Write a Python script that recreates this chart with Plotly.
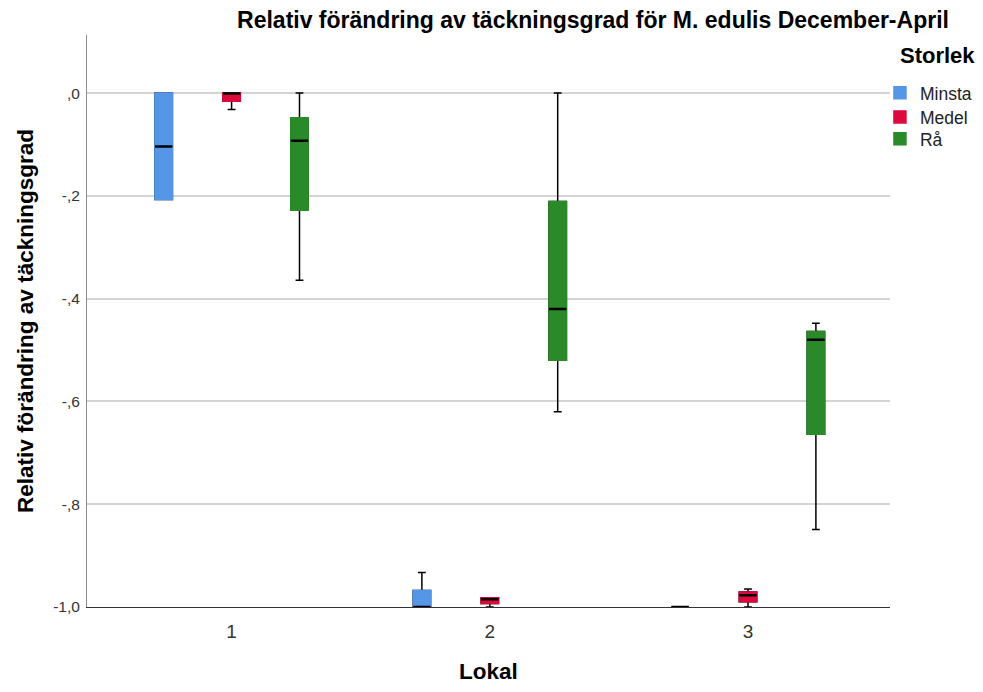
import plotly.graph_objects as go

categories = ["1", "2", "3"]
series = ["Minsta", "Medel", "Rå"]
colors = ["#5596E6", "#DC0A3C", "#2A8A2A"]

# box statistics per series (one value per Lokal)
q1 = {
    "Minsta": [-0.207, -1.000, -1.000],
    "Medel":  [-0.016, -0.993, -0.990],
    "Rå":     [-0.228, -0.520, -0.664],
}
median = {
    "Minsta": [-0.104, -1.000, -1.000],
    "Medel":  [-0.001, -0.985, -0.977],
    "Rå":     [-0.093, -0.420, -0.480],
}
q3 = {
    "Minsta": [0.000, -0.968, -1.000],
    "Medel":  [0.000, -0.982, -0.971],
    "Rå":     [-0.048, -0.211, -0.464],
}
lowerfence = {
    "Minsta": [-0.207, -1.000, -1.000],
    "Medel":  [-0.032, -1.000, -1.000],
    "Rå":     [-0.364, -0.620, -0.849],
}
upperfence = {
    "Minsta": [0.000, -0.933, -1.000],
    "Medel":  [0.000, -0.982, -0.965],
    "Rå":     [0.000, 0.000, -0.448],
}

ytickvals = [0, -0.2, -0.4, -0.6, -0.8, -1.0]
yticktext = [",0", "-,2", "-,4", "-,6", "-,8", "-1,0"]

legend_ids = ["legend", "legend2", "legend3"]
legend_y = [0.9301, 0.8881, 0.8497]

fig = go.Figure()
for i, s in enumerate(series):
    c = colors[i]
    # whiskers (black)
    fig.add_trace(go.Box(
        x=categories, q1=q1[s], median=median[s], q3=q3[s],
        lowerfence=lowerfence[s], upperfence=upperfence[s],
        offsetgroup=s, fillcolor=c, line=dict(color="#000000", width=1.5),
        whiskerwidth=0.45, boxpoints=False, showlegend=False, name=s,
    ))
    # colored body
    fig.add_trace(go.Box(
        x=categories, q1=q1[s], median=q1[s], q3=q3[s],
        lowerfence=q1[s], upperfence=q3[s],
        offsetgroup=s, fillcolor=c, line=dict(color=c, width=1.5),
        whiskerwidth=0, boxpoints=False, showlegend=True, name=s,
        legend=legend_ids[i],
    ))
    # median line (black)
    fig.add_trace(go.Box(
        x=categories, q1=median[s], median=median[s], q3=median[s],
        lowerfence=median[s], upperfence=median[s],
        offsetgroup=s, fillcolor=c, line=dict(color="#000000", width=2.5),
        whiskerwidth=0, boxpoints=False, showlegend=False, name=s,
    ))

legend_common = dict(
    x=0.9875, xanchor="left", yanchor="top",
    font=dict(size=17.5, color="#222"),
    itemclick=False, itemwidth=30, bgcolor="rgba(0,0,0,0)",
)

fig.update_layout(
    width=975, height=676,
    paper_bgcolor="white", plot_bgcolor="white",
    margin=dict(l=79, r=93, t=27, b=77, autoexpand=False),
    boxmode="group", boxgap=0.211, boxgroupgap=0.743,
    font=dict(family="Liberation Sans, Arial, sans-serif", color="#000"),
    title=dict(
        text="<b>Relativ förändring av täckningsgrad för M. edulis December-April</b>",
        x=0.6, xanchor="center", y=0.982, yanchor="middle",
        font=dict(size=23, color="#000"),
    ),
    legend=dict(y=legend_y[0], **legend_common),
    legend2=dict(y=legend_y[1], **legend_common),
    legend3=dict(y=legend_y[2], **legend_common),
    showlegend=True,
    annotations=[dict(
        text="<b>Storlek</b>", xref="paper", yref="paper",
        x=1.01, y=0.965, xanchor="left", yanchor="middle",
        showarrow=False, font=dict(size=22, color="#000"),
    )],
)
fig.update_xaxes(
    type="category", range=[-0.56, 2.55], automargin=False,
    showline=True, linecolor="#333", linewidth=1,
    showgrid=False, ticks="", tickfont=dict(size=19, color="#333"),
    ticklabelstandoff=7,
    title=dict(text="<b>Lokal</b>", font=dict(size=22.5), standoff=31),
)
fig.update_yaxes(
    range=[-1.0, 0.113], tickvals=ytickvals, ticktext=yticktext, automargin=False,
    showline=True, linecolor="#8c8c8c", linewidth=1,
    showgrid=True, gridcolor="#d4d4d4", gridwidth=1.5,
    zeroline=False, ticks="", tickfont=dict(size=15.5, color="#333"),
    ticklabelstandoff=3,
    title=dict(text="<b>Relativ förändring av täckningsgrad</b>", font=dict(size=22.5), standoff=13),
)

fig.write_html("out.html")
